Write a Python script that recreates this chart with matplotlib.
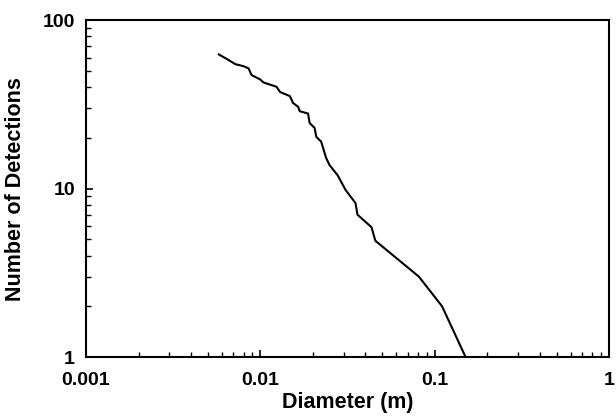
import matplotlib
matplotlib.use("Agg")
import matplotlib.pyplot as plt
from matplotlib.ticker import LogLocator, NullFormatter

# Cumulative detections vs diameter
diameter = [0.00577, 0.00644, 0.00718, 0.0080, 0.00855, 0.0089, 0.00996, 0.0104,
            0.01238, 0.01294, 0.01475, 0.0154, 0.01644, 0.0168, 0.01874, 0.01916,
            0.02046, 0.0209, 0.0223, 0.0238, 0.0249, 0.0277, 0.0308, 0.0351,
            0.036, 0.0433, 0.0456, 0.081, 0.110, 0.150]
detections = [62.6, 58.7, 54.8, 53.3, 51.7, 47.2, 44.5, 42.7,
              40.2, 37.5, 35.4, 32.2, 30.6, 28.8, 27.9, 24.5,
              22.9, 20.3, 19.0, 15.2, 13.8, 12.0, 9.8, 8.2,
              7.0, 5.9, 4.9, 3.0, 2.0, 1.0]

x_ticks = [0.001, 0.01, 0.1, 1]
x_labels = ["0.001", "0.01", "0.1", "1"]
y_ticks = [1, 10, 100]
y_labels = ["1", "10", "100"]

plt.rcParams["font.family"] = ["Liberation Sans", "DejaVu Sans"]
plt.rcParams["font.weight"] = "bold"

fig = plt.figure(figsize=(6.16, 4.2), dpi=100)
ax = fig.add_axes([0.1396, 0.15, 0.8495, 0.802])

ax.plot(diameter, detections, color="black", linewidth=1.5)

ax.set_xscale("log")
ax.set_yscale("log")
ax.set_xlim(0.001, 1)
ax.set_ylim(1, 100)

ax.set_xticks(x_ticks)
ax.set_xticklabels(x_labels)
ax.set_yticks(y_ticks)
ax.set_yticklabels(y_labels)
ax.xaxis.set_minor_locator(LogLocator(base=10, subs=range(2, 10)))
ax.yaxis.set_minor_locator(LogLocator(base=10, subs=range(2, 10)))
ax.xaxis.set_minor_formatter(NullFormatter())
ax.yaxis.set_minor_formatter(NullFormatter())

ax.tick_params(which="major", direction="in", length=5, width=1.2, labelsize=14)
ax.tick_params(axis="x", which="major", pad=11)
ax.tick_params(axis="y", which="major", pad=8)
ax.tick_params(which="minor", direction="in", length=3.5, width=1.0)

for s in ax.spines.values():
    s.set_linewidth(1.5)

ax.set_xlabel("Diameter (m)", fontsize=15.5, fontweight="bold", labelpad=2)
ax.set_ylabel("Number of Detections", fontsize=15.5, fontweight="bold", labelpad=12)

fig.savefig("out.png", dpi=100)
